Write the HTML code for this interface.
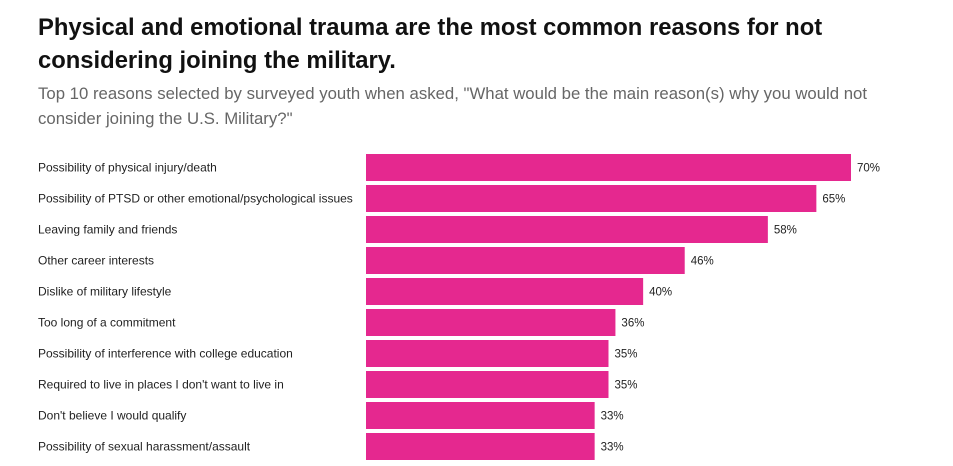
<!DOCTYPE html>
<html><head><meta charset="utf-8"><style>
body{margin:0;background:#fff;width:953px;height:466px;overflow:hidden;font-family:"Liberation Sans",sans-serif;}
h1{position:absolute;left:38px;top:11px;margin:0;font-size:23.8px;line-height:33px;font-weight:bold;color:#111;width:900px;}
.sub{position:absolute;left:38px;top:81px;margin:0;font-size:16.75px;line-height:25px;color:#666;width:890px;}
svg{position:absolute;left:0;top:0;}
</style></head><body>
<h1>Physical and emotional trauma are the most common reasons for not considering joining the military.</h1>
<p class="sub">Top 10 reasons selected by surveyed youth when asked, "What would be the main reason(s) why you would not consider joining the U.S. Military?"</p>
<svg id="chart" width="953" height="466"></svg>
<script>
const categories=["Possibility of physical injury/death","Possibility of PTSD or other emotional/psychological issues","Leaving family and friends","Other career interests","Dislike of military lifestyle","Too long of a commitment","Possibility of interference with college education","Required to live in places I don't want to live in","Don't believe I would qualify","Possibility of sexual harassment/assault"];
const values=[70,65,58,46,40,36,35,35,33,33];
const valueLabels=["70%","65%","58%","46%","40%","36%","35%","35%","33%","33%"];
const svg=document.getElementById('chart');
const NS='http://www.w3.org/2000/svg';
const x0=366,xPer=485/70,y0=154,pitch=31,bh=27;
const xs=v=>x0+v*xPer, ys=i=>y0+i*pitch;
categories.forEach((c,i)=>{
  const t=document.createElementNS(NS,'text');
  
  
  t.setAttribute('x',38);t.setAttribute('y',ys(i)+bh/2+4);
  t.setAttribute('font-size','12');t.setAttribute('fill','#222');
  t.textContent=c;svg.appendChild(t);
  const r=document.createElementNS(NS,'rect');
  
  
  r.setAttribute('x',x0);r.setAttribute('y',ys(i));
  r.setAttribute('width',xs(values[i])-x0);r.setAttribute('height',bh);
  r.setAttribute('fill','#e5288f');svg.appendChild(r);
  const v=document.createElementNS(NS,'text');
  
  
  v.setAttribute('x',xs(values[i])+6);v.setAttribute('y',ys(i)+bh/2+4);
  v.setAttribute('font-size','11.5');v.setAttribute('fill','#222');
  v.textContent=valueLabels[i];svg.appendChild(v);
});
</script>
</body></html>
